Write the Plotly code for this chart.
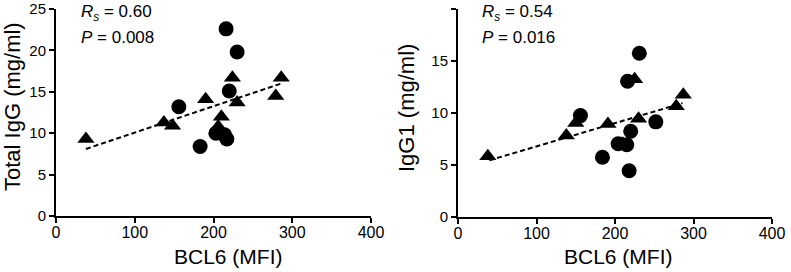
import plotly.graph_objects as go

W, H = 791, 272

# Left panel: Total IgG vs BCL6
igg_tri_x = [38, 137, 148, 190, 206, 210, 224, 230, 279, 286]
igg_tri_y = [9.3, 11.3, 10.9, 14.1, 10.8, 12.0, 16.7, 13.7, 14.5, 16.7]
igg_cir_x = [216, 230, 156, 220, 203, 214, 217, 183]
igg_cir_y = [22.6, 19.8, 13.2, 15.1, 10.0, 9.8, 9.3, 8.4]
igg_fit_x = [38, 286]
igg_fit_y = [8.1, 16.0]

# Right panel: IgG1 vs BCL6
igg1_tri_x = [38, 138, 150, 191, 208, 210, 225, 230, 278, 287]
igg1_tri_y = [5.8, 7.8, 9.0, 8.9, 6.9, 7.0, 13.2, 9.4, 10.6, 11.7]
igg1_cir_x = [231, 216, 156, 220, 252, 204, 215, 184, 218]
igg1_cir_y = [15.7, 13.0, 9.7, 8.2, 9.1, 7.0, 6.9, 5.7, 4.4]
igg1_fit_x = [40, 286]
igg1_fit_y = [5.4, 10.9]

x_ticks = [0, 100, 200, 300, 400]
left_y_ticks = [0, 5, 10, 15, 20, 25]
right_y_ticks = [0, 5, 10, 15, 20]

FONT = "Liberation Sans, Arial, Helvetica, sans-serif"

fig = go.Figure()

def px(x):
    return x / W

def py(y):
    return 1 - y / H

panels = [
    dict(xa="x", ya="y", tx=igg_tri_x, ty=igg_tri_y, cx=igg_cir_x, cy=igg_cir_y,
         fx=igg_fit_x, fy=igg_fit_y),
    dict(xa="x2", ya="y2", tx=igg1_tri_x, ty=igg1_tri_y, cx=igg1_cir_x, cy=igg1_cir_y,
         fx=igg1_fit_x, fy=igg1_fit_y),
]
for p in panels:
    fig.add_trace(go.Scatter(x=p["fx"], y=p["fy"], mode="lines", xaxis=p["xa"], yaxis=p["ya"],
                             line=dict(color="black", width=2, dash="5px,3px"), showlegend=False))
    fig.add_trace(go.Scatter(x=p["tx"], y=p["ty"], mode="markers", xaxis=p["xa"], yaxis=p["ya"],
                             marker=dict(symbol="triangle-up", size=15, color="black"), showlegend=False))
    fig.add_trace(go.Scatter(x=p["cx"], y=p["cy"], mode="markers", xaxis=p["xa"], yaxis=p["ya"],
                             marker=dict(symbol="circle", size=15, color="black"), showlegend=False))

axis_common = dict(showline=True, linecolor="black", linewidth=2, ticks="outside", ticklen=5,
                   tickwidth=2, tickcolor="black", showgrid=False, zeroline=False,
                   automargin=False)
xfont = dict(family=FONT, size=16, color="black")
yfont = dict(family=FONT, size=15, color="black")

fig.update_layout(
    width=W, height=H,
    margin=dict(l=0, r=0, t=0, b=0),
    paper_bgcolor="white", plot_bgcolor="white",
    xaxis=dict(domain=[px(56), px(371)], range=[0, 400], tickvals=x_ticks, anchor="y",
               tickfont=xfont, ticklabelstandoff=-4, **axis_common),
    yaxis=dict(domain=[py(216), py(9)], range=[0, 25], tickvals=left_y_ticks, anchor="x",
               tickfont=yfont, **axis_common),
    xaxis2=dict(domain=[px(458), px(772)], range=[0, 400], tickvals=x_ticks, anchor="y2",
                tickfont=xfont, ticklabelstandoff=-4, **axis_common),
    yaxis2=dict(domain=[py(216.5), py(8.5)], range=[0, 20], tickvals=right_y_ticks, anchor="x2",
                tickfont=yfont, **axis_common),
)

ann = []
def text(x, y, s, size, angle=0, xanchor="center"):
    ann.append(dict(x=px(x), y=py(y), xref="paper", yref="paper", text=s, showarrow=False,
                    textangle=angle, xanchor=xanchor, yanchor="middle",
                    font=dict(family=FONT, size=size, color="black")))

text(228, 256, "BCL6 (MFI)", 21)
text(618, 256, "BCL6 (MFI)", 21)
text(13, 107, "Total IgG (mg/ml)", 22, angle=-90)
text(407, 108, "IgG1 (mg/ml)", 22, angle=-90)
text(79, 13, "<i>R</i><sub><i>s</i></sub> = 0.60", 17, xanchor="left")
text(79, 38, "<i>P</i> = 0.008", 17, xanchor="left")
text(480, 13, "<i>R</i><sub><i>s</i></sub> = 0.54", 17, xanchor="left")
text(480, 38, "<i>P</i> = 0.016", 17, xanchor="left")
fig.update_layout(annotations=ann)

fig.write_html("out.html", config={"displayModeBar": False},
               post_script="document.body.style.margin='0px';document.body.style.overflow='hidden';")
